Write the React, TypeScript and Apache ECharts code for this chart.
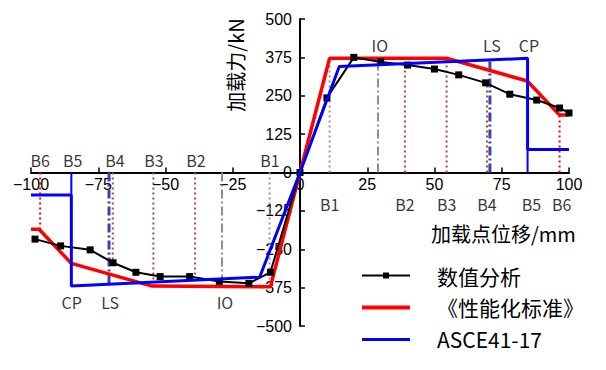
import React, { useEffect, useRef } from "react";
import * as echarts from "echarts";

// Numerical analysis curve (数值分析)
const numericX = [-98.5, -89, -78, -69.5, -61, -52, -41, -30, -19, -11, 0, 10, 20, 30, 40, 50, 59, 69, 78, 88, 96.5, 100];
const numericY = [-217, -239, -252, -294, -325, -339, -339, -355, -361, -325, 0, 243, 375, 360, 350, 337, 318, 292, 255, 236, 210, 194];

// 《性能化标准》 backbone
const standardX = [-100, -97, -85, -55, -11, 0, 11, 54.5, 84.5, 96.5, 100];
const standardY = [-185, -185, -296, -370, -372, 0, 372, 372, 298, 187, 187];

// ASCE41-17 backbone
const asceX = [-100, -85, -85, -15, 0, 14.6, 84.6, 84.6, 100];
const asceY = [-73, -73, -370, -341, 0, 345, 372, 75, 75];

// Vertical reference lines: x position, top value, kind
const refX = [11, 39, 54.5, 69.5, 96.5, 29, 70.6, 84.6, -11.3, -39, -54.5, -69.6, -96.6, -29, -71, -85];
const refTop = [372, 350, 372, 290, 187, 361, 363, 75, -360, -340, -360, -300, -185, -355, -366, -73];
const refKind = ["b1", "b", "b", "b", "b6", "io", "ls", "cp", "b1", "b", "b", "b", "b6", "io", "ls", "cp"];

// Point labels
const bNames = ["B1", "B2", "B3", "B4", "B5", "B6"];
const bPosX = [11, 39, 54.5, 69.5, 86, 97.3];
const bNegX = [-11.2, -38.7, -54.3, -68.8, -84.5, -96.6];
const bPosY = -101;
const bNegY = 41;
const perfNames = ["IO", "LS", "CP"];
const perfPosX = [29.7, 71.3, 85.1];
const perfNegX = [-27.9, -70.6, -84.9];
const perfPosY = 415;
const perfNegY = -422;

const xTicks = { min: -100, max: 100, interval: 25 };
const yTicks = { min: -500, max: 500, interval: 125 };

const legendNames = ["数值分析", "《性能化标准》", "ASCE41-17"];

const zip = (xs: number[], ys: number[]) => xs.map((x, i) => [x, ys[i]]);

const refStyle: Record<string, any> = {
  b1: { color: "#b58a8a", width: 2, type: [2, 3] },
  b: { color: "#a84848", width: 2, type: [2, 3] },
  b6: { color: "#ff0000", width: 2, type: [2, 3] },
  io: { color: "#8a8ab8", width: 2, type: [9, 3, 2, 3] },
  ls: { color: "#4040a8", width: 3, type: [9, 3, 2, 3] },
  cp: { color: "#0000ff", width: 2, type: "solid" },
};

const CJK = "'Noto Sans CJK SC', sans-serif";

const GRID = { left: 31, right: 37, top: 19, bottom: 44 };
const W = 606;
const H = 370;

export default function App() {
  const ref = useRef<HTMLDivElement>(null);
  useEffect(() => {
    if (!ref.current) return;
    const chart = echarts.init(ref.current, undefined, { renderer: "svg" });

    const refSeries = refX.map((x, i) => ({
      type: "line",
      name: "ref" + i,
      data: [[x, 0], [x, refTop[i]]],
      symbol: "none",
      silent: true,
      lineStyle: refStyle[refKind[i]],
      z: 1,
    }));

    const labelSeries = (xs: number[], y: number, names: string[], key: string) => ({
      type: "scatter",
      name: key,
      symbolSize: 0,
      silent: true,
      data: xs.map((x, i) => ({ value: [x, y], name: names[i] })),
      label: {
        show: true,
        position: "inside",
        formatter: (p: any) => p.name,
        color: "#000",
        fontSize: 16,
        lineHeight: 15,
        fontFamily: CJK,
      },
      z: 5,
    });

    const axisLabel = {
      color: "#000",
      fontSize: 16,
      lineHeight: 15,
      fontFamily: "'Liberation Sans', Arial, sans-serif",
      formatter: (v: number) => String(v).replace("-", "\u2212"),
    };

    // zero crossing positions (pixel offsets from the default axis positions)
    const plotH = H - GRID.top - GRID.bottom;
    const plotW = W - GRID.left - GRID.right;
    const xAxisOffset = -plotH * ((0 - yTicks.min) / (yTicks.max - yTicks.min));
    const yAxisOffset = -plotW * ((0 - xTicks.min) / (xTicks.max - xTicks.min));

    chart.setOption({
      animation: false,
      backgroundColor: "#fff",
      grid: { ...GRID, containLabel: false, outerBoundsMode: "none" },
      xAxis: {
        type: "value",
        ...xTicks,
        position: "bottom",
        offset: xAxisOffset,
        axisLine: { onZero: false, lineStyle: { color: "#000", width: 2 } },
        axisTick: { inside: true, length: 5, lineStyle: { color: "#000", width: 1.5 } },
        axisLabel: { ...axisLabel, margin: 4 },
        splitLine: { show: false },
      },
      yAxis: {
        type: "value",
        ...yTicks,
        position: "left",
        offset: yAxisOffset,
        axisLine: { onZero: false, lineStyle: { color: "#000", width: 2 } },
        axisTick: { inside: true, length: 5, lineStyle: { color: "#000", width: 1.5 } },
        axisLabel: { ...axisLabel, margin: 8 },
        splitLine: { show: false },
      },
      legend: {
        data: [
          { name: legendNames[0], icon: "path://M0,5H48V7H0Z M21,3H27V9H21Z", itemStyle: { color: "#000" } },
          { name: legendNames[1], icon: "path://M0,0H48V4H0Z", itemStyle: { color: "#ff0000" } },
          { name: legendNames[2], icon: "path://M0,0H48V3.2H0Z", itemStyle: { color: "#0000ff" } },
        ],
        orient: "vertical",
        left: 357,
        top: 260,
        itemWidth: 48,
        itemHeight: 12,
        itemGap: 11,
        textStyle: {
          fontSize: 21,
          lineHeight: 20,
          color: "#000",
          fontFamily: CJK,
          padding: [0, 0, 0, 22],
        },
      },
      graphic: [
        {
          type: "text",
          x: 235,
          y: 65,
          rotation: Math.PI / 2,
          style: {
            text: "加载力/kN",
            fontSize: 20,
            fontFamily: CJK,
            fill: "#000",
            align: "center",
            verticalAlign: "middle",
          },
        },
        {
          type: "text",
          x: 431,
          y: 233,
          style: {
            text: "加载点位移/mm",
            fontSize: 20,
            fontFamily: CJK,
            fill: "#000",
            align: "left",
            verticalAlign: "middle",
          },
        },
      ],
      series: [
        ...refSeries,
        {
          type: "line",
          name: legendNames[1],
          data: zip(standardX, standardY),
          symbol: "none",
          lineStyle: { color: "#ff0000", width: 3.5 },
          itemStyle: { color: "#ff0000" },
          z: 2,
        },
        {
          type: "line",
          name: legendNames[0],
          data: zip(numericX, numericY),
          symbol: "rect",
          symbolSize: 7,
          lineStyle: { color: "#000", width: 2 },
          itemStyle: { color: "#000" },
          z: 3,
        },
        {
          type: "line",
          name: legendNames[2],
          data: zip(asceX, asceY),
          symbol: "none",
          lineStyle: { color: "#0000ff", width: 3 },
          itemStyle: { color: "#0000ff" },
          z: 4,
        },
        labelSeries(bPosX, bPosY, bNames, "bpos"),
        labelSeries(bNegX, bNegY, bNames, "bneg"),
        labelSeries(perfPosX, perfPosY, perfNames, "ppos"),
        labelSeries(perfNegX, perfNegY, perfNames, "pneg"),
      ],
    });
    return () => chart.dispose();
  }, []);
  return (
    <div
      ref={ref}
      style={{ position: "fixed", left: 0, top: 0, width: W, height: H }}
    />
  );
}
